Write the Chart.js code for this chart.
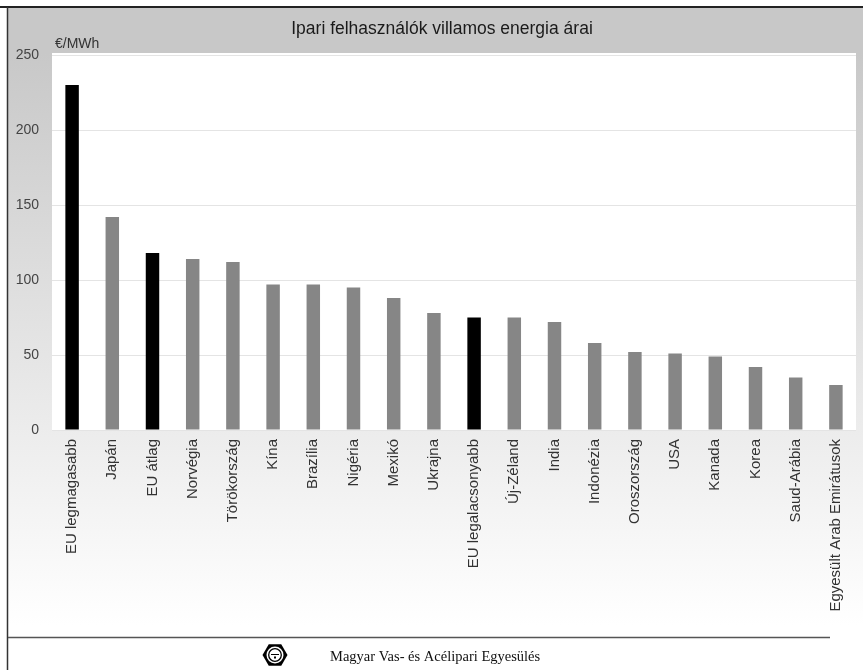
<!DOCTYPE html>
<html lang="hu">
<head>
<meta charset="utf-8">
<title>Ipari felhasználók villamos energia árai</title>
<script src="https://cdn.jsdelivr.net/npm/chart.js@4/dist/chart.umd.min.js"></script>
<style>
  html, body { margin: 0; padding: 0; background: #fff; }
  #wrap { position: relative; width: 863px; height: 670px; }
</style>
</head>
<body>
<div id="wrap"><canvas id="chart" width="863" height="670"></canvas></div>
<script>
// Texts
const chartTitle = 'Ipari felhasználók villamos energia árai';
const unitLabel = '€/MWh';
const footerText = 'Magyar Vas- és Acélipari Egyesülés';

// Countries / reference groups
const categories = [
  'EU legmagasabb', 'Japán', 'EU átlag', 'Norvégia', 'Törökország', 'Kína',
  'Brazília', 'Nigéria', 'Mexikó', 'Ukrajna', 'EU legalacsonyabb', 'Új-Zéland',
  'India', 'Indonézia', 'Oroszország', 'USA', 'Kanada', 'Korea', 'Saud-Arábia',
  'Egyesült Arab Emirátusok'
];

// Industrial electricity price, €/MWh
const prices = [230, 142, 118, 114, 112, 97, 97, 95, 88, 78, 75, 75, 72, 58, 52, 51, 49, 42, 35, 30];

// EU reference values are shown in black
const euReference = ['EU legmagasabb', 'EU átlag', 'EU legalacsonyabb'];

// Value axis ticks
const yTicks = [0, 50, 100, 150, 200, 250];

const barColors = categories.map(c => euReference.includes(c) ? '#000000' : '#868686');

const FONT = '"Liberation Sans", Arial, Helvetica, sans-serif';
const SERIF = '"Liberation Serif", "Times New Roman", serif';

// Panel background, frame, heading and footer
const framePlugin = {
  id: 'frame',
  beforeDraw(chart) {
    const ctx = chart.ctx;
    const a = chart.chartArea;
    const W = chart.width, H = chart.height;
    ctx.save();
    ctx.fillStyle = '#ffffff';
    ctx.fillRect(0, 0, W, H);

    const g = ctx.createLinearGradient(0, 8, 0, 625);
    g.addColorStop(0, '#c8c8c8');
    g.addColorStop((a.top - 2 - 8) / 617, '#c8c8c8');
    g.addColorStop(1, '#ffffff');
    ctx.fillStyle = g;
    ctx.fillRect(8, 8, W - 8, 630);

    // plot panel
    ctx.fillStyle = '#ffffff';
    ctx.fillRect(a.left, a.top - 2, a.right - a.left, a.bottom - a.top + 3);

    // footer band
    ctx.fillRect(8, 637, W - 8, H - 637);
    ctx.fillRect(830, 628, W - 830, H - 628);
    ctx.restore();
  },
  afterDraw(chart) {
    const ctx = chart.ctx;
    const W = chart.width, H = chart.height;
    ctx.save();

    // outer frame
    ctx.strokeStyle = '#222222';
    ctx.lineWidth = 2;
    ctx.beginPath();
    ctx.moveTo(0, 7);
    ctx.lineTo(W, 7);
    ctx.stroke();
    ctx.lineWidth = 1.5;
    ctx.strokeStyle = '#333333';
    ctx.beginPath();
    ctx.moveTo(7.5, 7);
    ctx.lineTo(7.5, H);
    ctx.stroke();

    // footer separator
    ctx.strokeStyle = '#555555';
    ctx.lineWidth = 1.5;
    ctx.beginPath();
    ctx.moveTo(8, 637.5);
    ctx.lineTo(830, 637.5);
    ctx.stroke();

    // heading
    ctx.fillStyle = '#1a1a1a';
    ctx.font = '17.5px ' + FONT;
    ctx.textAlign = 'center';
    ctx.textBaseline = 'middle';
    ctx.fillText(chartTitle, 442, 29);

    // unit
    ctx.fillStyle = '#333333';
    ctx.font = '14px ' + FONT;
    ctx.textAlign = 'left';
    ctx.fillText(unitLabel, 55, 44);

    // association emblem: hex nut with a ring
    const cx = 275, cy = 655, R = 12.5;
    ctx.fillStyle = '#000000';
    ctx.beginPath();
    for (let i = 0; i < 6; i++) {
      const ang = i * Math.PI / 3;
      const px = cx + R * Math.cos(ang), py = cy + R * Math.sin(ang);
      if (i === 0) ctx.moveTo(px, py); else ctx.lineTo(px, py);
    }
    ctx.closePath();
    ctx.fill();
    ctx.fillStyle = '#ffffff';
    ctx.beginPath();
    ctx.arc(cx, cy, 8.5, 0, Math.PI * 2);
    ctx.fill();
    ctx.strokeStyle = '#000000';
    ctx.lineWidth = 1.3;
    ctx.beginPath();
    ctx.arc(cx, cy, 6.3, 0, Math.PI * 2);
    ctx.stroke();
    ctx.lineWidth = 1;
    ctx.beginPath();
    ctx.moveTo(cx - 4, cy - 0.5);
    ctx.lineTo(cx + 4, cy - 0.5);
    ctx.stroke();
    ctx.fillStyle = '#000000';
    ctx.fillRect(cx - 1, cy + 1.5, 2, 2);

    // association name
    ctx.fillStyle = '#111111';
    ctx.font = '14.5px ' + SERIF;
    ctx.textAlign = 'left';
    ctx.textBaseline = 'middle';
    ctx.fillText(footerText, 330, 657);

    ctx.restore();
  }
};

new Chart(document.getElementById('chart'), {
  type: 'bar',
  data: {
    labels: categories,
    datasets: [{
      data: prices,
      backgroundColor: barColors,
      borderWidth: 0,
      categoryPercentage: 1,
      barPercentage: 0.335
    }]
  },
  options: {
    responsive: false,
    animation: false,
    layout: { padding: { left: 8, right: 4, top: 55, bottom: 0 } },
    plugins: {
      legend: { display: false },
      title: { display: false },
      tooltip: { enabled: false }
    },
    scales: {
      x: {
        grid: { display: false, drawTicks: false },
        border: { display: false },
        ticks: {
          autoSkip: false,
          minRotation: 90,
          maxRotation: 90,
          padding: 9,
          color: '#333333',
          font: { family: FONT, size: 15 }
        },
        afterFit(scale) { scale.height = 240; }
      },
      y: {
        min: 0,
        max: 250,
        afterBuildTicks(scale) { scale.ticks = yTicks.map(v => ({ value: v })); },
        grid: { color: '#e4e4e4', lineWidth: 1, drawTicks: false },
        border: { display: false },
        ticks: {
          padding: 13,
          color: '#444444',
          font: { family: FONT, size: 14 }
        },
        afterFit(scale) { scale.width = 44; }
      }
    }
  },
  plugins: [framePlugin]
});
</script>
</body>
</html>
